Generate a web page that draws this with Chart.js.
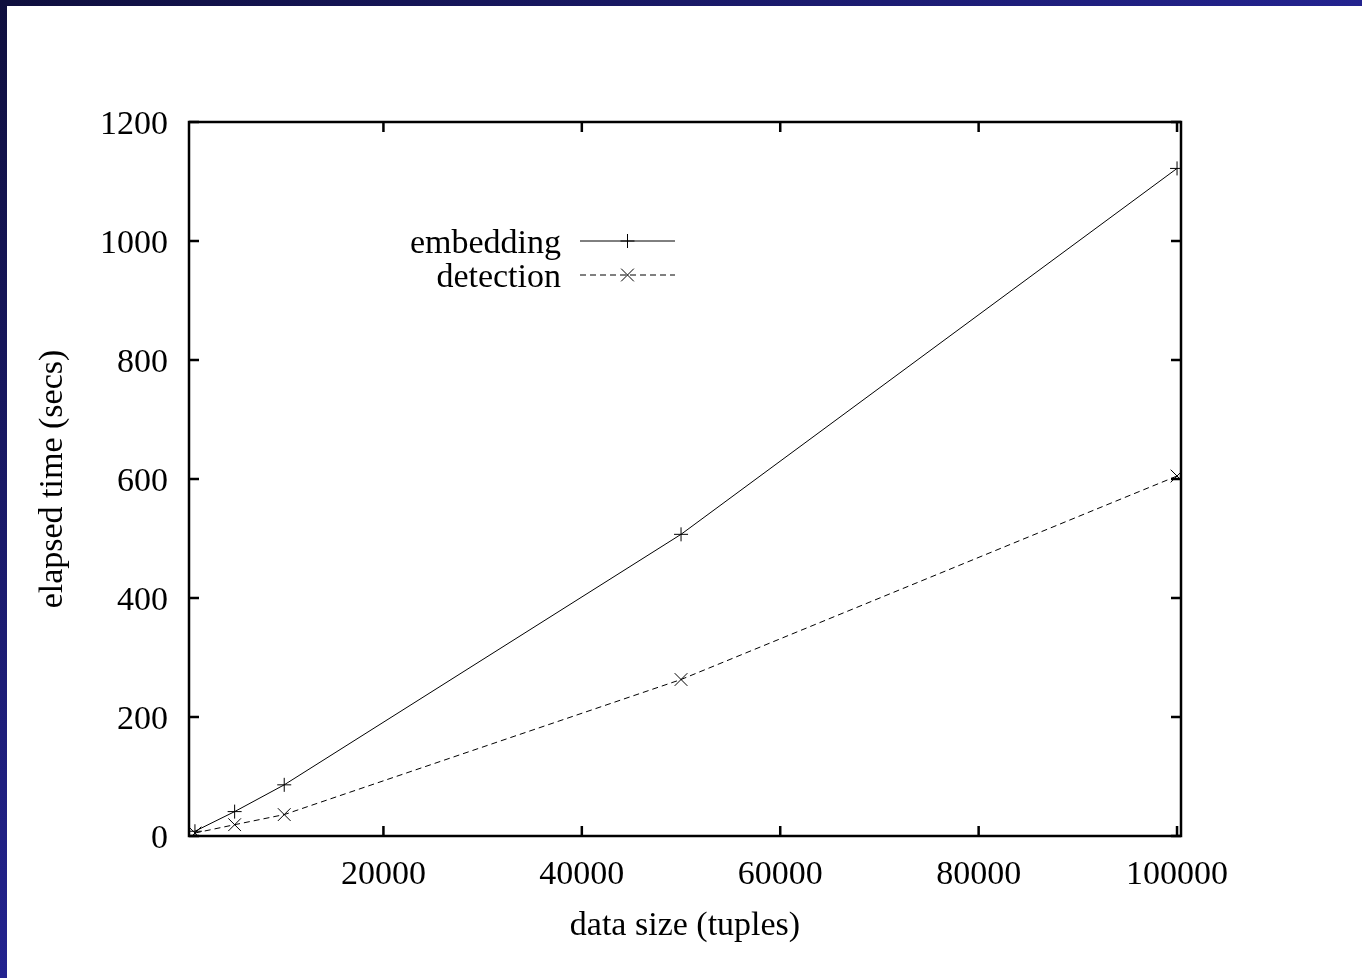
<!DOCTYPE html>
<html>
<head>
<meta charset="utf-8">
<script src="https://cdn.jsdelivr.net/npm/chart.js@4.4.0/dist/chart.umd.min.js"></script>
<style>
  html, body { margin: 0; padding: 0; background: #fff; }
  body { width: 1362px; height: 978px; position: relative; overflow: hidden; }
  #top-bar { position: absolute; left: 0; top: 0; width: 1362px; height: 6px; background: linear-gradient(to right, #0f0f3e, #23238f); }
  #left-bar { position: absolute; left: 0; top: 0; width: 7px; height: 978px; background: linear-gradient(to bottom, #0f0f3e, #23238f); }
  #wrap { position: absolute; left: 0; top: 0; width: 1362px; height: 978px; }
</style>
</head>
<body>
<div id="top-bar"></div>
<div id="left-bar"></div>
<div id="wrap"><canvas id="chart" width="1362" height="978"></canvas></div>
<script>
// data
const DATA_SIZES = [1000, 5000, 10000, 50000, 100000];
const EMBEDDING_SECS = [8, 41, 86, 507, 1122];
const DETECTION_SECS = [5, 19, 36, 263, 605];
const X_TICKS = [20000, 40000, 60000, 80000, 100000];
const Y_TICKS = [0, 200, 400, 600, 800, 1000, 1200];
const SERIES_LABELS = ['embedding', 'detection'];

const FONT = { family: '"Liberation Serif", "DejaVu Serif", serif', size: 34 };

function toPoints(xs, ys) {
  return xs.map((x, i) => ({ x, y: ys[i] }));
}

// frame + inward tick marks, gnuplot style
const framePlugin = {
  id: 'frame',
  afterDraw(chart) {
    const { ctx, chartArea: a, scales } = chart;
    const len = 10;
    ctx.save();
    ctx.strokeStyle = '#000';
    ctx.lineWidth = 2.5;
    ctx.beginPath();
    scales.x.ticks.forEach((t) => {
      const px = scales.x.getPixelForValue(t.value);
      ctx.moveTo(px, a.bottom); ctx.lineTo(px, a.bottom - len);
      ctx.moveTo(px, a.top); ctx.lineTo(px, a.top + len);
    });
    scales.y.ticks.forEach((t) => {
      const py = scales.y.getPixelForValue(t.value);
      ctx.moveTo(a.left, py); ctx.lineTo(a.left + len, py);
      ctx.moveTo(a.right, py); ctx.lineTo(a.right - len, py);
    });
    ctx.stroke();
    ctx.strokeRect(a.left, a.top, a.right - a.left, a.bottom - a.top);
    ctx.restore();
  }
};

// key inside the plot: label on the left, sample on the right
const keyPlugin = {
  id: 'key',
  afterDraw(chart) {
    const { ctx, chartArea: a } = chart;
    const textRight = a.left + 372;
    const lineStart = a.left + 391;
    const lineEnd = a.left + 486;
    ctx.save();
    ctx.font = `${FONT.size}px ${FONT.family}`;
    ctx.fillStyle = '#000';
    ctx.textAlign = 'right';
    ctx.textBaseline = 'middle';
    chart.data.datasets.forEach((ds, i) => {
      const y = a.top + 119 + i * 34;
      ctx.fillText(ds.label, textRight, y + 3);
      ctx.strokeStyle = '#000';
      ctx.lineWidth = 1;
      ctx.setLineDash(ds.borderDash || []);
      ctx.beginPath();
      ctx.moveTo(lineStart, y);
      ctx.lineTo(lineEnd, y);
      ctx.stroke();
      ctx.setLineDash([]);
      Chart.helpers.drawPoint(ctx, {
        pointStyle: ds.pointStyle,
        radius: ds.pointRadius,
        rotation: 0,
        borderWidth: 1
      }, (lineStart + lineEnd) / 2, y);
    });
    ctx.restore();
  }
};

new Chart(document.getElementById('chart'), {
  type: 'line',
  data: {
    datasets: [
      {
        label: SERIES_LABELS[0],
        data: toPoints(DATA_SIZES, EMBEDDING_SECS),
        borderColor: '#000',
        borderWidth: 1,
        pointStyle: 'cross',
        pointRadius: 7,
        pointBorderColor: '#000',
        pointBorderWidth: 1,
        fill: false,
        tension: 0
      },
      {
        label: SERIES_LABELS[1],
        data: toPoints(DATA_SIZES, DETECTION_SECS),
        borderColor: '#000',
        borderWidth: 1,
        borderDash: [6, 4],
        pointStyle: 'crossRot',
        pointRadius: 9,
        pointBorderColor: '#000',
        pointBorderWidth: 1,
        fill: false,
        tension: 0
      }
    ]
  },
  options: {
    responsive: false,
    animation: false,
    devicePixelRatio: 1,
    layout: { padding: { left: 0, top: 122, right: 181, bottom: 0 } },
    plugins: {
      legend: { display: false },
      tooltip: { enabled: false }
    },
    scales: {
      x: {
        type: 'linear',
        min: 400,
        max: 100400,
        grid: { display: false, drawTicks: false },
        border: { display: false },
        afterBuildTicks: (s) => { s.ticks = X_TICKS.map((v) => ({ value: v })); },
        afterFit: (s) => { s.height = 142; },
        ticks: {
          color: '#000',
          font: FONT,
          padding: 19,
          maxRotation: 0,
          callback: (v) => String(v)
        },
        title: {
          display: true,
          text: 'data size (tuples)',
          color: '#000',
          font: FONT,
          padding: { top: 0, bottom: 32 }
        }
      },
      y: {
        type: 'linear',
        min: 0,
        max: 1200,
        grid: { display: false, drawTicks: false },
        border: { display: false },
        afterBuildTicks: (s) => { s.ticks = Y_TICKS.map((v) => ({ value: v })); },
        afterFit: (s) => { s.width = 189; },
        ticks: {
          color: '#000',
          font: FONT,
          padding: 21,
          labelOffset: 3,
          callback: (v) => String(v)
        },
        title: {
          display: true,
          text: 'elapsed time (secs)',
          color: '#000',
          font: FONT,
          padding: { top: 33, bottom: 0 }
        }
      }
    }
  },
  plugins: [framePlugin, keyPlugin]
});
</script>
</body>
</html>
